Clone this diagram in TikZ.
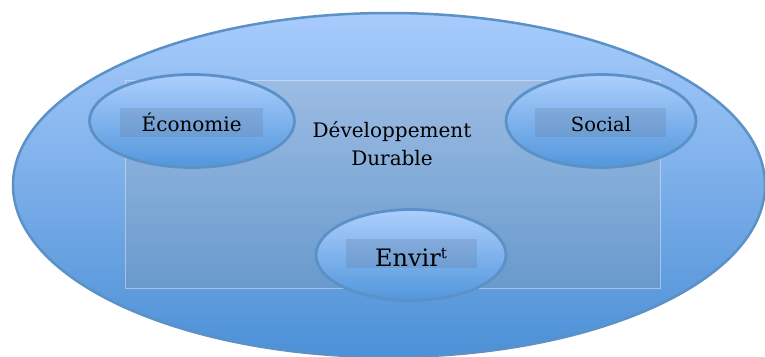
\documentclass[tikz,border=0pt]{standalone}
\usepackage{fontspec}
\setmainfont{DejaVu Serif}
\usetikzlibrary{shapes.geometric}
\definecolor{ringline}{RGB}{91,145,198}
\definecolor{outerTop}{RGB}{168,204,252}
\definecolor{outerBot}{RGB}{76,144,214}
\definecolor{pillTop}{RGB}{172,207,253}
\definecolor{pillBot}{RGB}{82,150,220}
\definecolor{coreTop}{RGB}{156,188,228}
\definecolor{coreBot}{RGB}{104,154,204}
\definecolor{tagfill}{RGB}{100,120,150}
\begin{document}
\begin{tikzpicture}[x=1pt,y=-1pt,
  outerring/.style={ellipse, draw=ringline, line width=2.5pt, top color=outerTop, bottom color=outerBot, inner sep=0pt, outer sep=0pt},
  corebox/.style={rectangle, draw=white, draw opacity=0.4, line width=0.8pt, top color=coreTop, bottom color=coreBot, inner sep=0pt, outer sep=0pt},
  pillar/.style={ellipse, draw=ringline, line width=2.8pt, top color=pillTop, bottom color=pillBot, inner sep=0pt, outer sep=0pt},
  tagbox/.style={rectangle, fill=tagfill, fill opacity=0.25, draw=none, inner sep=0pt, outer sep=0pt},
  lbl/.style={anchor=base, inner sep=0pt, text=black, font=\fontsize{20}{24}\selectfont},
  biglbl/.style={anchor=base, inner sep=0pt, text=black, font=\fontsize{24}{28}\selectfont}
]
\useasboundingbox (0,0) rectangle (765,356);
\clip (0,0) rectangle (765,356);

\node[outerring, minimum width=752pt, minimum height=344pt] (outer) at (389,185) {};
\node[corebox, minimum width=535pt, minimum height=208pt] (core) at (392.5,184) {};

\node[lbl] (title1) at (392,137) {Développement};
\node[lbl] (title2) at (392,165) {Durable};

\node[pillar, minimum width=205pt, minimum height=93pt] (eco) at (192,121) {};
\node[tagbox, minimum width=143pt, minimum height=29pt] (ecobox) at (191.5,122.5) {};
\node[lbl] (ecotext) at (191.7,131) {Économie};

\node[pillar, minimum width=190pt, minimum height=93pt] (soc) at (601,121) {};
\node[tagbox, minimum width=131pt, minimum height=29pt] (socbox) at (600.5,122.5) {};
\node[lbl, font=\fontsize{19.5}{24}\selectfont] (soctext) at (601,131) {Social};

\node[pillar, minimum width=190pt, minimum height=91pt] (env) at (411,255) {};
\node[tagbox, minimum width=131pt, minimum height=29pt] (envbox) at (411.5,253.7) {};
\node[biglbl] (envtext) at (411,266.7) {Envir\raisebox{0.33em}{\fontsize{15}{15}\selectfont t}};
\end{tikzpicture}
\end{document}
